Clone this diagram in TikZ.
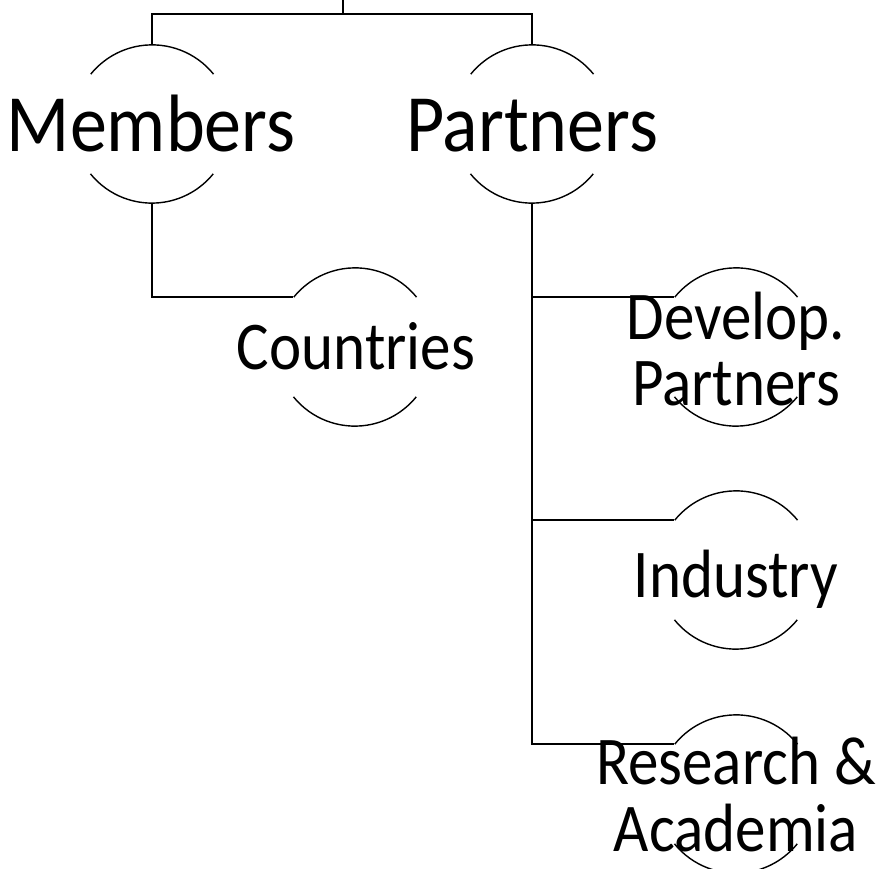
\documentclass[tikz,border=0pt]{standalone}
\usepackage{fontspec}
\setmainfont{Carlito}
\begin{document}
\begin{tikzpicture}[x=1pt,y=1pt,
  ring/.style={circle,minimum size=158pt,inner sep=0pt,draw=none},
  arcline/.style={line width=1.4pt},
  conn/.style={line width=1.7pt},
  big/.style={font=\fontsize{74}{74}\selectfont,inner sep=0pt,anchor=base,yscale=1.1,transform shape},
  small/.style={font=\fontsize{61}{59}\selectfont,inner sep=0pt,align=center,anchor=base,yscale=1.12,transform shape}]
\useasboundingbox (0,0) rectangle (877,868);
\node[ring] (M) at (152,744) {};
\node[ring] (P) at (532,744) {};
\node[ring] (C) at (355,521) {};
\node[ring] (D) at (736,521) {};
\node[ring] (I) at (736,298) {};
\node[ring] (R) at (736,74) {};
\foreach \n in {M,P,C,D,I,R}{
  \draw[arcline] (\n.39) arc[start angle=39,end angle=141,radius=79pt];
  \draw[arcline] (\n.219) arc[start angle=219,end angle=321,radius=79pt];
}
\node[big] (Mt) at (151,716) {Members};
\node[big] (Pt) at (532,716) {Partners};
\node[small] (Ct) at (356,498) {Countries};
\node[small] (Dt) at (736,462) {Develop.\\Partners};
\node[small] (It) at (736,271) {Industry};
\node[small] (Rt) at (736,17) {Research \&\\Academia};
\coordinate (top) at (343,868);
\draw[conn] (top) -- ++(0,-14);
\draw[conn] (M.north) -- ++(0,31) -| (P.north);
\draw[conn] (M.south) |- (C.141);
\draw[conn] (P.south) |- (R.141);
\draw[conn] (P.south |- D.141) -- (D.141);
\draw[conn] (P.south |- I.141) -- (I.141);
\end{tikzpicture}
\end{document}
